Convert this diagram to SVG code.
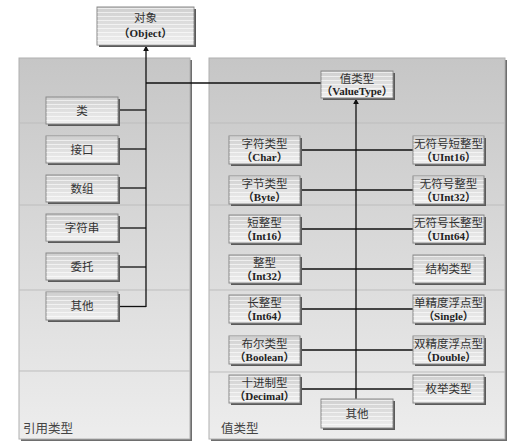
<svg xmlns="http://www.w3.org/2000/svg" width="515" height="447" viewBox="0 0 515 447">
<defs>
<linearGradient id="panelG" x1="0" y1="0" x2="0" y2="1">
<stop offset="0" stop-color="#c6c6c6"/>
<stop offset="1" stop-color="#ededed"/>
</linearGradient>
<linearGradient id="boxG" x1="0" y1="0" x2="0" y2="1">
<stop offset="0" stop-color="#cfcfcf"/>
<stop offset="1" stop-color="#f0f0f0"/>
</linearGradient>
<pattern id="stripes" width="6" height="4" patternUnits="userSpaceOnUse">
<rect x="0" y="0" width="6" height="1" fill="#ffffff" fill-opacity="0.6"/>
</pattern>
<marker id="arr" viewBox="0 0 10 10" refX="9" refY="5" markerWidth="6" markerHeight="7" orient="auto" markerUnits="userSpaceOnUse">
<path d="M0,0 L10,5 L0,10 z" fill="#111"/>
</marker>
</defs>
<style>
.panel{fill:url(#panelG);stroke:#b0b0b0;stroke-width:1}
.pshadow{fill:#6e6e6e}
.sep{stroke:#bdbdbd;stroke-width:1}
.box{fill:url(#boxG);stroke:#8a8a8a;stroke-width:1}
.str{fill:url(#stripes)}
.shadow{fill:#5a5a5a}
text{font-family:"Liberation Serif","Noto Sans CJK SC",serif;font-size:11.5px;fill:#333;text-anchor:middle}
.en{font-weight:bold;font-size:11px;fill:#222}
.lbl{text-anchor:start;font-size:12.5px;fill:#444}
.ln{stroke:#111;stroke-width:1.3;fill:none}
</style>
<rect width="515" height="447" fill="#ffffff"/>

<g id="panel-ref">
<rect class="pshadow" x="21" y="60" width="171" height="381"/>
<rect class="panel" x="19" y="58" width="171" height="381"/>
<line class="sep" x1="19" y1="123" x2="190" y2="123"/>
<line class="sep" x1="19" y1="205" x2="190" y2="205"/>
<line class="sep" x1="19" y1="290" x2="190" y2="290"/>
<line class="sep" x1="19" y1="371" x2="190" y2="371"/>
<text class="lbl" x="23" y="433">引用类型</text>
</g>

<g id="panel-val">
<rect class="pshadow" x="211" y="60" width="296" height="381"/>
<rect class="panel" x="209" y="58" width="296" height="381"/>
<line class="sep" x1="209" y1="123" x2="505" y2="123"/>
<line class="sep" x1="209" y1="205" x2="505" y2="205"/>
<line class="sep" x1="209" y1="290" x2="505" y2="290"/>
<line class="sep" x1="209" y1="372" x2="505" y2="372"/>
<text class="lbl" x="221" y="433">值类型</text>
</g>

<g id="connectors">
<line class="ln" x1="146" y1="307" x2="146" y2="46" marker-end="url(#arr)"/>
<line class="ln" x1="118" y1="110" x2="146" y2="110"/>
<line class="ln" x1="118" y1="149" x2="146" y2="149"/>
<line class="ln" x1="118" y1="188" x2="146" y2="188"/>
<line class="ln" x1="118" y1="228" x2="146" y2="228"/>
<line class="ln" x1="118" y1="267" x2="146" y2="267"/>
<line class="ln" x1="118" y1="306.5" x2="146" y2="306.5"/>
<line class="ln" x1="146" y1="83" x2="321" y2="83"/>
<line class="ln" x1="356" y1="399" x2="356" y2="99" marker-end="url(#arr)"/>
<line class="ln" x1="300" y1="150" x2="413" y2="150"/>
<line class="ln" x1="300" y1="190" x2="413" y2="190"/>
<line class="ln" x1="300" y1="229" x2="413" y2="229"/>
<line class="ln" x1="300" y1="269" x2="413" y2="269"/>
<line class="ln" x1="300" y1="309" x2="413" y2="309"/>
<line class="ln" x1="300" y1="350" x2="413" y2="350"/>
<line class="ln" x1="300" y1="389" x2="413" y2="389"/>
</g>

<g id="object"><rect class="shadow" x="99" y="9" width="97" height="38"/><rect class="box" x="97" y="7" width="97" height="38"/><rect class="str" x="97.5" y="7.5" width="96" height="37"/><text x="145.5" y="22">对象</text><text class="en" x="145.5" y="37">（Object）</text></g>

<g id="ref-class"><rect class="shadow" x="48" y="99" width="72" height="27"/><rect class="box" x="46" y="97" width="72" height="27"/><rect class="str" x="46.5" y="97.5" width="71" height="26"/><text x="82" y="114.5">类</text></g>
<g id="ref-interface"><rect class="shadow" x="48" y="138" width="72" height="27"/><rect class="box" x="46" y="136" width="72" height="27"/><rect class="str" x="46.5" y="136.5" width="71" height="26"/><text x="82" y="153.5">接口</text></g>
<g id="ref-array"><rect class="shadow" x="48" y="177" width="72" height="27"/><rect class="box" x="46" y="175" width="72" height="27"/><rect class="str" x="46.5" y="175.5" width="71" height="26"/><text x="82" y="192.5">数组</text></g>
<g id="ref-string"><rect class="shadow" x="48" y="216" width="72" height="27"/><rect class="box" x="46" y="214" width="72" height="27"/><rect class="str" x="46.5" y="214.5" width="71" height="26"/><text x="82" y="231.5">字符串</text></g>
<g id="ref-delegate"><rect class="shadow" x="48" y="255" width="72" height="27"/><rect class="box" x="46" y="253" width="72" height="27"/><rect class="str" x="46.5" y="253.5" width="71" height="26"/><text x="82" y="270.5">委托</text></g>
<g id="ref-other"><rect class="shadow" x="48" y="294" width="72" height="28"/><rect class="box" x="46" y="292" width="72" height="28"/><rect class="str" x="46.5" y="292.5" width="71" height="27"/><text x="82" y="310">其他</text></g>

<g id="valuetype"><rect class="shadow" x="323" y="73" width="72" height="27"/><rect class="box" x="321" y="71" width="72" height="27"/><rect class="str" x="321.5" y="71.5" width="71" height="26"/><text x="357" y="83">值类型</text><text class="en" x="357" y="95">（ValueType）</text></g>

<g id="v-char"><rect class="shadow" x="231" y="138" width="71" height="28"/><rect class="box" x="229" y="136" width="71" height="28"/><rect class="str" x="229.5" y="136.5" width="70" height="27"/><text x="264.5" y="148">字符类型</text><text class="en" x="264.5" y="161">（Char）</text></g>
<g id="v-byte"><rect class="shadow" x="231" y="178" width="71" height="28"/><rect class="box" x="229" y="176" width="71" height="28"/><rect class="str" x="229.5" y="176.5" width="70" height="27"/><text x="264.5" y="188">字节类型</text><text class="en" x="264.5" y="201">（Byte）</text></g>
<g id="v-int16"><rect class="shadow" x="231" y="217" width="71" height="28"/><rect class="box" x="229" y="215" width="71" height="28"/><rect class="str" x="229.5" y="215.5" width="70" height="27"/><text x="264.5" y="227">短整型</text><text class="en" x="264.5" y="240">（Int16）</text></g>
<g id="v-int32"><rect class="shadow" x="231" y="257" width="71" height="28"/><rect class="box" x="229" y="255" width="71" height="28"/><rect class="str" x="229.5" y="255.5" width="70" height="27"/><text x="264.5" y="267">整型</text><text class="en" x="264.5" y="280">（Int32）</text></g>
<g id="v-int64"><rect class="shadow" x="231" y="297" width="71" height="28"/><rect class="box" x="229" y="295" width="71" height="28"/><rect class="str" x="229.5" y="295.5" width="70" height="27"/><text x="264.5" y="307">长整型</text><text class="en" x="264.5" y="320">（Int64）</text></g>
<g id="v-bool"><rect class="shadow" x="231" y="338" width="71" height="28"/><rect class="box" x="229" y="336" width="71" height="28"/><rect class="str" x="229.5" y="336.5" width="70" height="27"/><text x="264.5" y="348">布尔类型</text><text class="en" x="264.5" y="361">（Boolean）</text></g>
<g id="v-decimal"><rect class="shadow" x="231" y="377" width="71" height="28"/><rect class="box" x="229" y="375" width="71" height="28"/><rect class="str" x="229.5" y="375.5" width="70" height="27"/><text x="264.5" y="387">十进制型</text><text class="en" x="264.5" y="400">（Decimal）</text></g>

<g id="v-uint16"><rect class="shadow" x="415" y="138" width="71" height="28"/><rect class="box" x="413" y="136" width="71" height="28"/><rect class="str" x="413.5" y="136.5" width="70" height="27"/><text x="448.5" y="148">无符号短整型</text><text class="en" x="448.5" y="161">（UInt16）</text></g>
<g id="v-uint32"><rect class="shadow" x="415" y="178" width="71" height="28"/><rect class="box" x="413" y="176" width="71" height="28"/><rect class="str" x="413.5" y="176.5" width="70" height="27"/><text x="448.5" y="188">无符号整型</text><text class="en" x="448.5" y="201">（UInt32）</text></g>
<g id="v-uint64"><rect class="shadow" x="415" y="217" width="71" height="28"/><rect class="box" x="413" y="215" width="71" height="28"/><rect class="str" x="413.5" y="215.5" width="70" height="27"/><text x="448.5" y="227">无符号长整型</text><text class="en" x="448.5" y="240">（UInt64）</text></g>
<g id="v-struct"><rect class="shadow" x="415" y="257" width="71" height="28"/><rect class="box" x="413" y="255" width="71" height="28"/><rect class="str" x="413.5" y="255.5" width="70" height="27"/><text x="448.5" y="273">结构类型</text></g>
<g id="v-single"><rect class="shadow" x="415" y="297" width="71" height="28"/><rect class="box" x="413" y="295" width="71" height="28"/><rect class="str" x="413.5" y="295.5" width="70" height="27"/><text x="448.5" y="307">单精度浮点型</text><text class="en" x="448.5" y="320">（Single）</text></g>
<g id="v-double"><rect class="shadow" x="415" y="338" width="71" height="28"/><rect class="box" x="413" y="336" width="71" height="28"/><rect class="str" x="413.5" y="336.5" width="70" height="27"/><text x="448.5" y="348">双精度浮点型</text><text class="en" x="448.5" y="361">（Double）</text></g>
<g id="v-enum"><rect class="shadow" x="415" y="377" width="71" height="28"/><rect class="box" x="413" y="375" width="71" height="28"/><rect class="str" x="413.5" y="375.5" width="70" height="27"/><text x="448.5" y="393">枚举类型</text></g>

<g id="v-other"><rect class="shadow" x="323" y="401" width="72" height="29"/><rect class="box" x="321" y="399" width="72" height="29"/><rect class="str" x="321.5" y="399.5" width="71" height="28"/><text x="357" y="418">其他</text></g>
</svg>
